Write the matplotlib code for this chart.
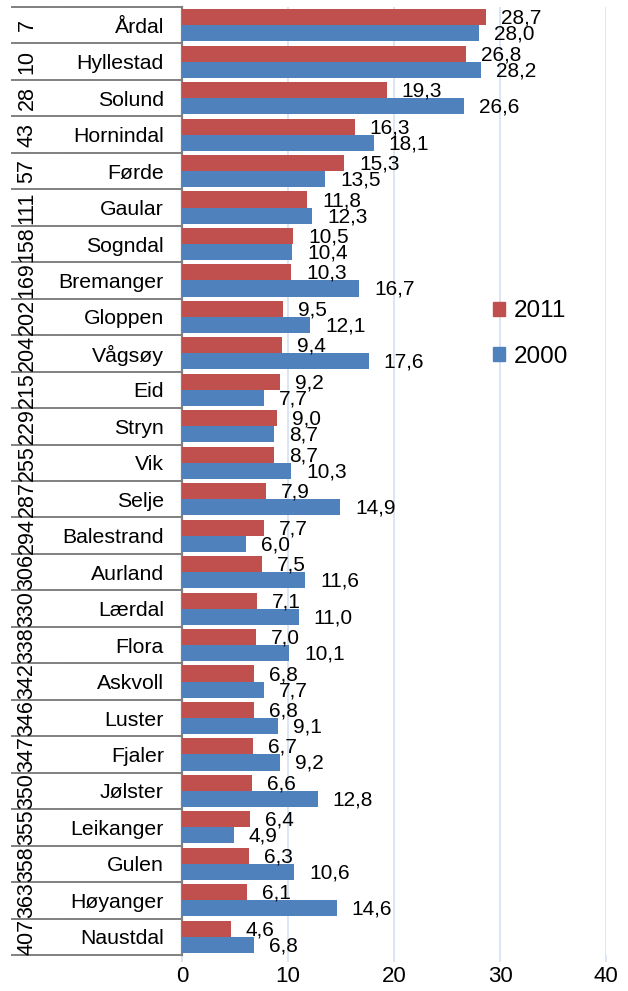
import matplotlib
matplotlib.use('Agg')
import matplotlib.pyplot as plt
from matplotlib.patches import Patch

plt.rcParams['font.family'] = ['Liberation Sans', 'DejaVu Sans']

# Data
ranks = [7, 10, 28, 43, 57, 111, 158, 169, 202, 204, 215, 229, 255, 287,
         294, 306, 330, 338, 342, 346, 347, 350, 355, 358, 363, 407]
names = ['Årdal', 'Hyllestad', 'Solund', 'Hornindal', 'Førde', 'Gaular',
         'Sogndal', 'Bremanger', 'Gloppen', 'Vågsøy', 'Eid', 'Stryn', 'Vik',
         'Selje', 'Balestrand', 'Aurland', 'Lærdal', 'Flora', 'Askvoll',
         'Luster', 'Fjaler', 'Jølster', 'Leikanger', 'Gulen', 'Høyanger',
         'Naustdal']
v2011 = [28.7, 26.8, 19.3, 16.3, 15.3, 11.8, 10.5, 10.3, 9.5, 9.4, 9.2, 9.0,
         8.7, 7.9, 7.7, 7.5, 7.1, 7.0, 6.8, 6.8, 6.7, 6.6, 6.4, 6.3, 6.1, 4.6]
v2000 = [28.0, 28.2, 26.6, 18.1, 13.5, 12.3, 10.4, 16.7, 12.1, 17.6, 7.7, 8.7,
         10.3, 14.9, 6.0, 11.6, 11.0, 10.1, 7.7, 9.1, 9.2, 12.8, 4.9, 10.6,
         14.6, 6.8]
series_labels = ['2011', '2000']

red = '#C0504D'
blue = '#4F81BD'
grid_col = '#D9E3F1'
sep_col = '#808080'

W, H = 628, 991
fig = plt.figure(figsize=(6.28, 9.91), dpi=100)
ax = fig.add_axes([182 / W, 36 / H, 424 / W, 948 / H])

n = len(names)
ypos = list(range(n))
bh = 0.44

ax.barh([y - bh / 2 for y in ypos], v2011, height=bh, color=red, zorder=3)
ax.barh([y + bh / 2 for y in ypos], v2000, height=bh, color=blue, zorder=3)

# value labels with comma decimals
for y, a, b in zip(ypos, v2011, v2000):
    ax.annotate(f'{a:.1f}'.replace('.', ','), xy=(a, y - bh / 2), xytext=(15, -1),
                textcoords='offset pixels', ha='left', va='center', fontsize=15, zorder=4)
    ax.annotate(f'{b:.1f}'.replace('.', ','), xy=(b, y + bh / 2), xytext=(15, -1),
                textcoords='offset pixels', ha='left', va='center', fontsize=15, zorder=4)

ax.set_xlim(0, 40)
ax.set_ylim(n - 0.5, -0.5)
ax.set_xticks([0, 10, 20, 30, 40])
ax.xaxis.grid(True, color=grid_col, lw=1.3, zorder=0)
ax.tick_params(axis='x', length=5, width=1.3, color=grid_col, labelsize=16, pad=3)

ax.set_yticks(ypos)
ax.set_yticklabels(names, fontsize=15.3)
ax.tick_params(axis='y', length=0, pad=13)

for s in ['top', 'right', 'bottom']:
    ax.spines[s].set_visible(False)
ax.spines['left'].set_color(sep_col)
ax.spines['left'].set_linewidth(1.6)

# table-like left area: separators and rotated rank numbers
tr = ax.get_yaxis_transform()
x_left = (12 - 182) / 424
x_gap1 = (55 - 182) / 424
x_gap2 = (57 - 182) / 424
for b in [i - 0.5 for i in range(n + 1)]:
    ax.plot([x_left, x_gap1], [b, b], color=sep_col, lw=1.4, transform=tr, clip_on=False)
    ax.plot([x_gap2, 0], [b, b], color=sep_col, lw=1.4, transform=tr, clip_on=False)

x_rank = (27 - 182) / 424
for y, r in zip(ypos, ranks):
    ax.text(x_rank, y, str(r), rotation=90, ha='center', va='center',
            fontsize=15.5, transform=tr)

handles = [Patch(color=red), Patch(color=blue)]
fig.legend(handles, series_labels, loc='center left', bbox_to_anchor=(481 / W, 1 - 334 / H),
           frameon=False, fontsize=17.5, handlelength=0.5, handleheight=0.5,
           handletextpad=0.35, labelspacing=0.95, borderpad=0)

fig.savefig('out.png', dpi=100)
